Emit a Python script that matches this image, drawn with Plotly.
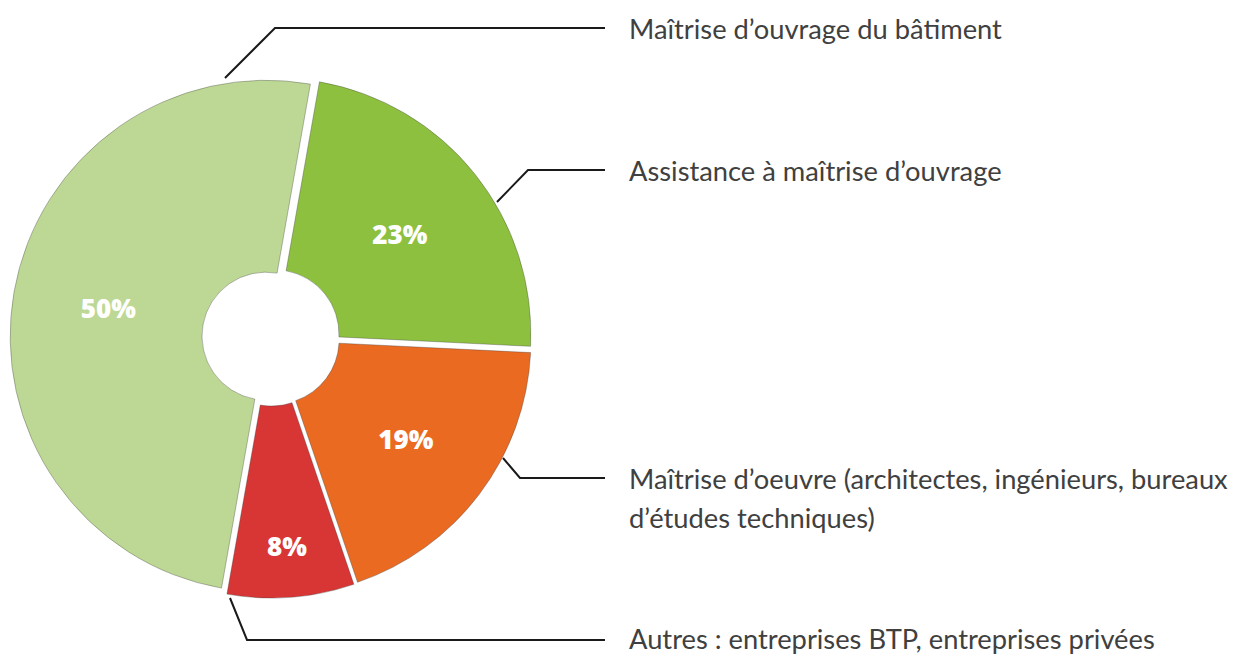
import plotly.graph_objects as go

# ---- data ----
categories = [
    "Assistance à maîtrise d’ouvrage",
    "Maîtrise d’oeuvre (architectes, ingénieurs, bureaux<br>d’études techniques)",
    "Autres : entreprises BTP, entreprises privées",
    "Maîtrise d’ouvrage du bâtiment",
]
values = [23, 19, 8, 50]
colors = ["#8DC03F", "#EA6A22", "#D83535", "#BDD894"]

# label placement (pixels) and leader-line paths (pixels)
label_y = [170, 478, 638, 28]
leader_paths = [
    [(497, 202), (528, 170), (605, 170)],
    [(503, 458), (520, 478), (605, 478)],
    [(230, 598), (247, 640), (605, 640)],
    [(225, 78), (275, 28), (605, 28)],
]

W, H = 1249, 657
OFF = 8  # page body margin
FW, FH = W - OFF, H - OFF
cx, cy = 271, 337
Rp = 261  # outer radius including pull
pull = 0.02

fig = go.Figure()
fig.add_trace(go.Pie(
    labels=[c.replace("<br>", " ") for c in categories],
    values=values,
    sort=False,
    direction="clockwise",
    rotation=10,
    hole=0.25,
    pull=[pull] * len(values),
    marker=dict(colors=colors, line=dict(color="rgba(60,60,60,0.35)", width=1)),
    texttemplate="%{value}%",
    textposition="inside",
    insidetextorientation="horizontal",
    textfont=dict(family="Open Sans", size=26, color="white", weight=800),
    showlegend=False,
    hoverinfo="label+percent",
    domain=dict(x=[max(0, (cx - OFF - Rp) / FW), (cx - OFF + Rp) / FW],
                y=[(H - cy - Rp) / FH, (H - cy + Rp) / FH]),
))

# invisible pixel axes (screen pixels) for leader lines / labels
fig.update_layout(
    xaxis=dict(range=[OFF, W], visible=False, fixedrange=True),
    yaxis=dict(range=[H, OFF], visible=False, fixedrange=True),
)

for path in leader_paths:
    xs = [p[0] for p in path]
    ys = [p[1] for p in path]
    fig.add_trace(go.Scatter(x=xs, y=ys, mode="lines",
                             line=dict(color="#1a1a1a", width=2),
                             hoverinfo="skip", showlegend=False))

line_gap = 39
for cat, y in zip(categories, label_y):
    for i, part in enumerate(cat.split("<br>")):
        fig.add_annotation(x=627, y=y + i * line_gap, xref="x", yref="y",
                           text=part, showarrow=False, xanchor="left",
                           yanchor="middle",
                           font=dict(family="Lato", size=27.3, color="#404040"))

fig.update_layout(
    width=FW, height=FH,
    margin=dict(l=0, r=0, t=0, b=0),
    paper_bgcolor="white", plot_bgcolor="white",
)

fig.write_html("out.html")
